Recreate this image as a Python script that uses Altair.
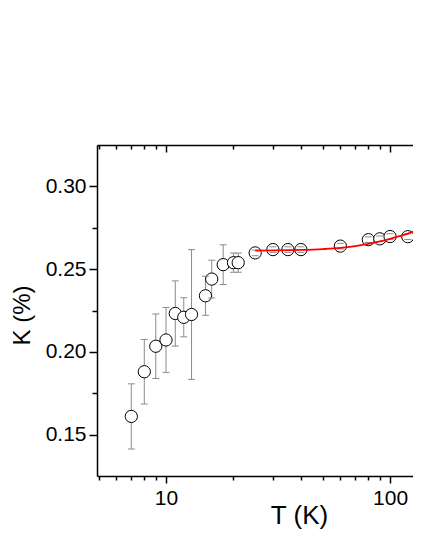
import altair as alt
import pandas as pd

# Measured data (T in K, K in %)
T = [7, 8, 9, 10, 11, 12, 13, 15, 16, 18, 20, 21, 25, 30, 35, 40, 60, 80, 90, 100, 120, 140]
K = [0.161, 0.188, 0.2034, 0.2072, 0.2232, 0.2209, 0.2226, 0.2339, 0.244, 0.2527, 0.2539, 0.2539,
     0.2598, 0.2618, 0.2618, 0.2618, 0.2639, 0.2678, 0.2683, 0.2697, 0.2696, 0.2762]
ERR = [0.0197, 0.0195, 0.0195, 0.0196, 0.0197, 0.0118, 0.0392, 0.0118, 0.0114, 0.012, 0.0058, 0.0058,
       0.0017, 0.0017, 0.0017, 0.0017, 0.0017, 0.0017, 0.0017, 0.0017, 0.0017, 0.0017]

# Fit curve
FIT_T = [25, 30, 40, 50, 60, 70, 80, 90, 100, 110, 120, 130, 140]
FIT_K = [0.2612, 0.2613, 0.2616, 0.2621, 0.2628, 0.2639, 0.2652, 0.2667, 0.2683, 0.2699, 0.2715, 0.2733, 0.2753]

X_TICKS = [5, 6, 7, 8, 9, 10, 20, 30, 40, 50, 60, 70, 80, 90, 100]
Y_TICKS = [0.15, 0.175, 0.2, 0.225, 0.25, 0.275, 0.3]

df = pd.DataFrame({"T": T, "K": K, "err": ERR})
df["lo"] = df["K"] - df["err"]
df["hi"] = df["K"] + df["err"]
fit = pd.DataFrame({"T": FIT_T, "K": FIT_K})

FONT = "Liberation Sans"
xscale = alt.Scale(type="log", domain=[4.92, 126.6], nice=False)
yscale = alt.Scale(domain=[0.125, 0.325], nice=False, zero=False)

major_x = "datum.value == 10 || datum.value == 100"
major_y = "datum.value == 0.15 || datum.value == 0.2 || datum.value == 0.25 || datum.value == 0.3"

x_bottom = alt.Axis(
    orient="bottom", values=X_TICKS, title="T (K)",
    labelExpr=f"({major_x}) ? '' + datum.value : ''",
    tickSize={"condition": {"test": major_x, "value": 7}, "value": 4},
    tickColor="black", tickWidth=1.5, domainColor="black", domainWidth=1.5,
    labelFont=FONT, labelFontSize=21, labelColor="black", labelPadding=4,
    titleFont=FONT, titleFontSize=26, titleFontWeight="normal", titleColor="black",
    titleX=202, titleY=47, titleBaseline="alphabetic", titleAlign="center",
    grid=False,
)
x_top = alt.Axis(
    orient="top", values=X_TICKS, title="", labels=False,
    tickSize={"condition": {"test": major_x, "value": -7}, "value": -4},
    tickColor="black", tickWidth=1.5, domainColor="black", domainWidth=1.5,
    grid=False,
)
y_left = alt.Axis(
    orient="left", values=Y_TICKS, title="K (%)",
    labelExpr=f"({major_y}) ? format(datum.value, '.2f') : ''",
    tickSize={"condition": {"test": major_y, "value": 8}, "value": 5},
    tickColor="black", tickWidth=1.5, domainColor="black", domainWidth=1.5,
    labelFont=FONT, labelFontSize=21, labelColor="black", labelPadding=3,
    titleFont=FONT, titleFontSize=24, titleFontWeight="normal", titleColor="black",
    titleX=-68, titleY=170, titleBaseline="alphabetic", titleAlign="center", titleAngle=270,
    grid=False,
)

base = alt.Chart(df)

rules = base.mark_rule(color="#8c8c8c", strokeWidth=1).encode(
    x=alt.X("T:Q", scale=xscale, axis=x_bottom),
    y=alt.Y("lo:Q", scale=yscale, axis=y_left),
    y2="hi:Q",
)
circles = base.mark_circle(size=150, fill="white", stroke="black", strokeWidth=1, opacity=1).encode(
    x=alt.X("T:Q", scale=xscale, axis=None),
    y=alt.Y("K:Q", scale=yscale, axis=y_left),
)
caps_lo = base.mark_tick(orient="horizontal", size=7, thickness=1, color="#8c8c8c", opacity=1).encode(
    x=alt.X("T:Q", scale=xscale, axis=None),
    y=alt.Y("lo:Q", scale=yscale, axis=y_left),
)
caps_hi = base.mark_tick(orient="horizontal", size=7, thickness=1, color="#8c8c8c", opacity=1).encode(
    x=alt.X("T:Q", scale=xscale, axis=None),
    y=alt.Y("hi:Q", scale=yscale, axis=y_left),
)
line = alt.Chart(fit).mark_line(color="red", strokeWidth=1.8, interpolate="monotone").encode(
    x=alt.X("T:Q", scale=xscale, axis=x_top),
    y=alt.Y("K:Q", scale=yscale, axis=y_left),
)

chart = alt.layer(rules, circles, caps_lo, caps_hi, line).properties(
    width=316, height=331,
    autosize=alt.AutoSizeParams(type="none"),
    padding={"left": 89, "top": 137, "right": 0, "bottom": 54},
).configure_view(strokeWidth=0)

chart.save("out.html", embed_options={"renderer": "svg", "actions": False})
